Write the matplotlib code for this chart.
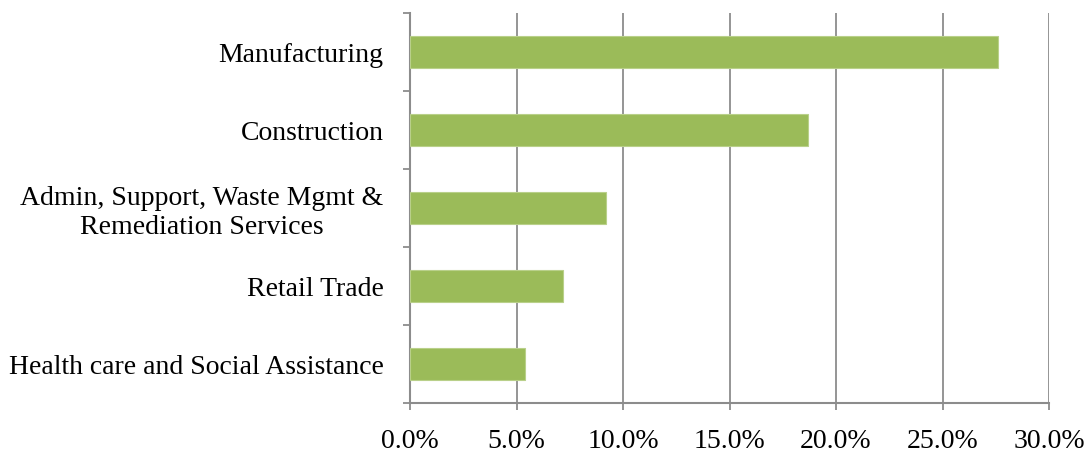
import matplotlib
matplotlib.use("Agg")
import matplotlib.pyplot as plt
from matplotlib.ticker import FuncFormatter, FixedLocator

categories = ["Manufacturing", "Construction",
              "Admin, Support, Waste Mgmt &\nRemediation Services",
              "Retail Trade", "Health care and Social Assistance"]
values = [27.6, 18.7, 9.2, 7.2, 5.4]
xticks = [0, 5, 10, 15, 20, 25, 30]

plt.rcParams['font.family'] = ['Liberation Serif', 'DejaVu Serif']

fig = plt.figure(figsize=(10.85, 4.54), dpi=100)
ax = fig.add_axes([410/1085, 51/454, 639/1085, 390/454])

n = len(categories)
ypos = [n - 1 - i for i in range(n)]
ax.barh(ypos, values, height=0.41, color='#9BBB59', edgecolor='#B9D08A', linewidth=0.8, zorder=3)

ax.set_xlim(0, 30)
ax.set_ylim(-0.5, n - 0.5)
ax.set_xticks(xticks)
ax.xaxis.set_major_formatter(FuncFormatter(lambda v, p: f"{v:.1f}%"))
ax.grid(axis='x', color='#8C8C8C', linewidth=1.3, zorder=1)

ax.yaxis.set_major_locator(FixedLocator([i - 0.5 for i in range(n + 1)]))
ax.yaxis.set_minor_locator(FixedLocator(ypos))
ax.set_yticklabels([])
ax.set_yticklabels(categories, minor=True, multialignment='center', linespacing=1.2)
ax.tick_params(axis='y', which='major', length=5, width=1.3, color='#8C8C8C')
ax.tick_params(axis='y', which='minor', length=0, pad=19, labelsize=20)
ax.tick_params(axis='x', length=5, width=1.3, color='#8C8C8C', pad=14, labelsize=20)

for s in ['top', 'right']:
    ax.spines[s].set_visible(False)
for s in ['left', 'bottom']:
    ax.spines[s].set_color('#8C8C8C')
    ax.spines[s].set_linewidth(1.5)

fig.savefig("out.png", dpi=100)
